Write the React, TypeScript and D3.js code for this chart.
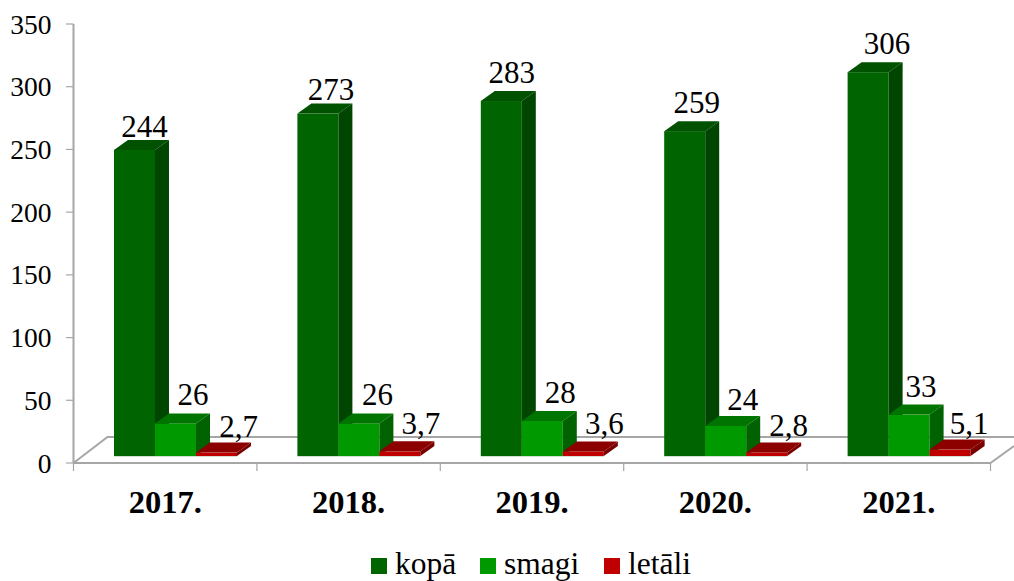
import React from "react";
import * as d3 from "d3";

const categories = ["2017.", "2018.", "2019.", "2020.", "2021."];
const kopa = [244, 273, 283, 259, 306];
const smagi = [26, 26, 28, 24, 33];
const letali = [2.7, 3.7, 3.6, 2.8, 5.1];
const seriesNames = ["kopā", "smagi", "letāli"];
const yTicks = [0, 50, 100, 150, 200, 250, 300, 350];

// hand-placed data label offsets in the source chart: [dx from bar centre, baseline above back top edge]
const labelDx = [
  [10, 13, 10.5, 12, 19],
  [17.5, 18.5, 18, 17, 12],
  [22, 21, 21, 22, 19],
];
const labelDy = [
  [3, 4, 8, 8, 8],
  [8, 8, 8, 6, 8],
  [6, 7, 7, 6, 6],
];

const fills = [
  { front: "#006400", top: "#005200", side: "#004500" },
  { front: "#009a00", top: "#007400", side: "#006200" },
  { front: "#c00000", top: "#8c0000", side: "#7a0000" },
];

const AXIS = "#a6a6a6";
const FONT = "'Liberation Serif', 'Times New Roman', serif";
const DX = 14;
const DY = 10;
const FLOOR_DX = 34;
const FLOOR_DY = 26;
const BASE_SHIFT = 7;
const DRAW_ORDER = [0, 1, 2];

export default function App() {
  const y = d3.scaleLinear().domain([0, 350]).range([463, 24]);
  const x = d3.scaleBand<string>().domain(categories).range([73.5, 990.5]);
  const barW = 41;
  const barStart = (c: string) => (x(c) as number) + 40.5;
  const series = [kopa, smagi, letali];
  const legend = [
    { sw: 371, tx: 395 },
    { sw: 480, tx: 504 },
    { sw: 604, tx: 628 },
  ];
  return (
    <svg
      width={1014}
      height={581}
      style={{ position: "absolute", left: 0, top: 0, display: "block", background: "#fff" }}
      fontFamily={FONT}
    >
      {/* floor */}
      <path
        d={`M${x.range()[0]},${y(0)} L${x.range()[0] + FLOOR_DX},${y(0) - FLOOR_DY} L1014,${y(0) - FLOOR_DY}`}
        fill="none"
        stroke={AXIS}
        strokeWidth={2}
      />
      <path d={`M${x.range()[1]},${y(0)} L1014,${y(0) - 17}`} fill="none" stroke={AXIS} strokeWidth={2} />
      {/* axes */}
      <line x1={73.5} x2={73.5} y1={y(350)} y2={y(0)} stroke={AXIS} strokeWidth={2} />
      <line x1={73.5} x2={990.5} y1={y(0)} y2={y(0)} stroke={AXIS} strokeWidth={2} />
      {yTicks.map((t) => (
        <g key={t}>
          <line x1={66} x2={73.5} y1={y(t)} y2={y(t)} stroke={AXIS} strokeWidth={1.2} />
          <text x={51.5} y={y(t) + 9.5} textAnchor="end" fontSize={27.5} fill="#000">
            {t}
          </text>
        </g>
      ))}
      {[...categories.map((c) => x(c) as number), x.range()[1]].map((p) => (
        <line key={p} x1={p} x2={p} y1={y(0)} y2={y(0) + 8} stroke={AXIS} strokeWidth={1.2} />
      ))}
      {/* bars */}
      {categories.map((c, ci) =>
        DRAW_ORDER.map((si) => {
          const v = series[si][ci];
          const x0 = barStart(c) + si * barW;
          const x1 = x0 + barW;
          const base = y(0) - BASE_SHIFT;
          const top = y(v) - BASE_SHIFT;
          const f = fills[si];
          return (
            <g key={c + si}>
              <rect x={x0} y={top} width={barW} height={base - top} fill={f.front} />
              <path d={`M${x0},${top} L${x0 + DX},${top - DY} L${x1 + DX},${top - DY} L${x1},${top} Z`} fill={f.top} />
              <path d={`M${x1},${top} L${x1 + DX},${top - DY} L${x1 + DX},${base - DY} L${x1},${base} Z`} fill={f.side} />
              <line x1={x0} x2={x1} y1={base + 0.5} y2={base + 0.5} stroke="#cfe3cf" strokeWidth={1} />
            </g>
          );
        })
      )}
      {/* data labels */}
      {categories.map((c, ci) =>
        [0, 1, 2].map((si) => {
          const v = series[si][ci];
          const x0 = barStart(c) + si * barW;
          const top = y(v) - BASE_SHIFT - DY;
          return (
            <text
              key={c + "l" + si}
              x={x0 + barW / 2 + labelDx[si][ci]}
              y={top - labelDy[si][ci]}
              textAnchor="middle"
              fontSize={31}
              fill="#000"
            >
              {String(v).replace(".", ",")}
            </text>
          );
        })
      )}
      {/* category labels */}
      {categories.map((c) => (
        <text
          key={c}
          x={(x(c) as number) + x.bandwidth() / 2}
          y={513}
          textAnchor="middle"
          fontSize={32.5}
          fontWeight="bold"
          fill="#000"
        >
          {c}
        </text>
      ))}
      {/* legend */}
      {seriesNames.map((n, i) => (
        <g key={n}>
          <rect x={legend[i].sw} y={558} width={16} height={16} fill={fills[i].front} />
          <text x={legend[i].tx} y={574} fontSize={31.5} fill="#000">
            {n}
          </text>
        </g>
      ))}
    </svg>
  );
}
